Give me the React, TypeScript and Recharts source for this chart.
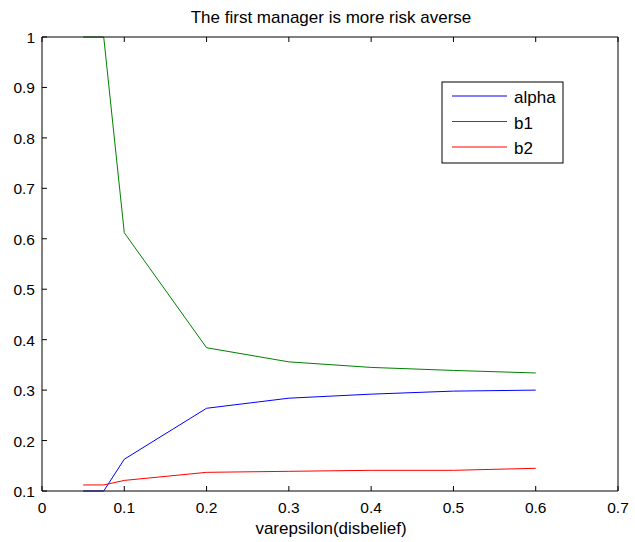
import { LineChart, Line, XAxis, YAxis } from 'recharts';

const epsilons = [0.05, 0.075, 0.1, 0.2, 0.3, 0.4, 0.5, 0.6];
const alpha = [0.1, 0.1, 0.163, 0.264, 0.284, 0.292, 0.298, 0.3];
const b1 = [1, 1, 0.612, 0.384, 0.356, 0.345, 0.339, 0.334];
const b2 = [0.112, 0.112, 0.121, 0.137, 0.139, 0.141, 0.141, 0.145];

const xTicks = [0, 0.1, 0.2, 0.3, 0.4, 0.5, 0.6, 0.7];
const yTicks = [0.1, 0.2, 0.3, 0.4, 0.5, 0.6, 0.7, 0.8, 0.9, 1];

const SERIES = [
  { key: 'alpha', name: 'alpha', color: '#0000ff' },
  { key: 'b1', name: 'b1', color: '#008000' },
  { key: 'b2', name: 'b2', color: '#ff0000' },
];

const data = epsilons.map((x, i) => ({ x, alpha: alpha[i], b1: b1[i], b2: b2[i] }));

const FONT = 'Liberation Sans, Arial, sans-serif';
const fmt = (v: number) => String(Number(v.toFixed(2)));

// matlab-style ticks: short marks pointing into the box
const BottomTick = ({ x, y, payload }: any) => (
  <g>
    <line x1={x} y1={y} x2={x} y2={y - 5} stroke="#000" />
    <text x={x} y={y + 22} textAnchor="middle" fontSize={15.5} fontFamily={FONT} fill="#000">
      {fmt(payload.value)}
    </text>
  </g>
);
const TopTick = ({ x, y }: any) => <line x1={x} y1={y} x2={x} y2={y + 5} stroke="#000" />;
const LeftTick = ({ x, y, payload }: any) => (
  <g>
    <line x1={x} y1={y} x2={x + 5} y2={y} stroke="#000" />
    <text x={x - 7} y={y + 6} textAnchor="end" fontSize={15.5} fontFamily={FONT} fill="#000">
      {fmt(payload.value)}
    </text>
  </g>
);
const RightTick = ({ x, y }: any) => <line x1={x} y1={y} x2={x - 5} y2={y} stroke="#000" />;

// legend box drawn in svg so it takes no space from the plot
const LEG_X = 442;
const LEG_Y = 82;
const LegendBox = () => (
  <g fontFamily={FONT} fontSize={17}>
    <rect x={LEG_X} y={LEG_Y} width={121} height={81} fill="#fff" stroke="#000" />
    {SERIES.map((s, i) => {
      const cy = LEG_Y + 14 + i * 25.5;
      return (
        <g key={s.key}>
          <line x1={LEG_X + 10} y1={cy} x2={LEG_X + 65} y2={cy} stroke={s.color} />
          <text x={LEG_X + 72} y={cy + 7} fill="#000">
            {s.name}
          </text>
        </g>
      );
    })}
  </g>
);

export default function App() {
  return (
    <div style={{ position: 'absolute', left: 0, top: 0, width: 635, height: 542, background: '#fff' }}>
      <LineChart width={635} height={542} data={data} margin={{ top: 36, right: 16, bottom: 21, left: 2 }}>
        <XAxis
          xAxisId="b"
          dataKey="x"
          type="number"
          domain={[0, 0.7]}
          ticks={xTicks}
          height={30}
          tickSize={0}
          tickMargin={0}
          tickLine={false}
          tick={<BottomTick />}
          axisLine={{ stroke: '#000' }}
        />
        <XAxis
          xAxisId="t"
          orientation="top"
          dataKey="x"
          type="number"
          domain={[0, 0.7]}
          ticks={xTicks}
          height={1}
          tickSize={0}
          tickMargin={0}
          tickLine={false}
          tick={<TopTick />}
          axisLine={{ stroke: '#000' }}
        />
        <YAxis
          yAxisId="l"
          type="number"
          domain={[0.1, 1]}
          ticks={yTicks}
          width={40}
          tickSize={0}
          tickMargin={0}
          tickLine={false}
          tick={<LeftTick />}
          axisLine={{ stroke: '#000' }}
        />
        <YAxis
          yAxisId="r"
          orientation="right"
          type="number"
          domain={[0.1, 1]}
          ticks={yTicks}
          width={1}
          tickSize={0}
          tickMargin={0}
          tickLine={false}
          tick={<RightTick />}
          axisLine={{ stroke: '#000' }}
        />
        {SERIES.map(s => (
          <Line
            key={s.key}
            xAxisId="b"
            yAxisId="l"
            type="linear"
            dataKey={s.key}
            name={s.name}
            stroke={s.color}
            strokeWidth={1}
            dot={false}
            isAnimationActive={false}
          />
        ))}
        <LegendBox />
        <text x={331} y={23} textAnchor="middle" fontSize={17} fontFamily={FONT} fill="#000">
          The first manager is more risk averse
        </text>
        <text x={331} y={534} textAnchor="middle" fontSize={17} fontFamily={FONT} fill="#000">
          varepsilon(disbelief)
        </text>
      </LineChart>
    </div>
  );
}
